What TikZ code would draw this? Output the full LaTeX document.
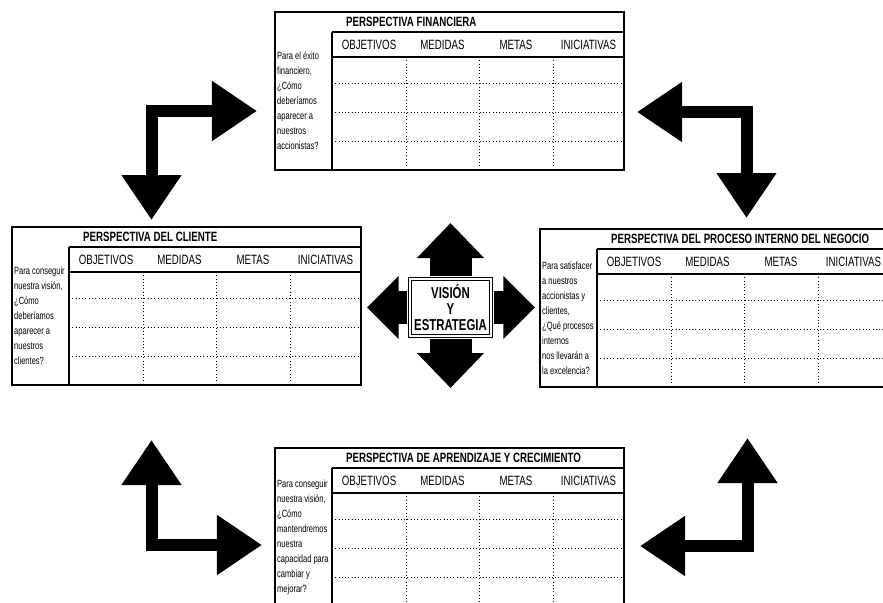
\documentclass[tikz,border=0pt]{standalone}
\usepackage{fontspec}
\setmainfont{Liberation Sans}[FakeStretch=0.72]
\usetikzlibrary{arrows.meta}

\tikzset{
  marco/.style={line width=1.2pt},
  punteada/.style={dotted, line width=0.8pt},
  titulo/.style={font=\bfseries\fontsize{11.5}{13}\selectfont, inner sep=0pt, anchor=west},
  cabecera/.style={font=\fontsize{11.5}{13}\selectfont, inner sep=0pt},
  pregunta/.style={font=\fontsize{8.9}{12.8}\selectfont, align=left, inner sep=0pt, anchor=west},
  esquina/.style={line width=0.36cm, line join=miter, >={Triangle[length=1.35cm,width=1.71cm]}, <->},
  cruz/.style={line width=1.26cm, shorten <=1.9pt, >={Triangle[length=1.05cm,width=1.95cm]}, ->},
  cruzlado/.style={cruz, line width=1cm, >={Triangle[length=0.95cm,width=1.83cm]}},
  vision/.style={draw, double, line width=1.3pt, double distance=1.2pt, minimum width=2.42cm,
    minimum height=1.7cm, align=center, inner sep=0pt, font=\bfseries\fontsize{13.5}{13.7}\selectfont}
}

% una tabla de perspectiva: nombre, x, y, titulo, pregunta
\newcommand{\perspectiva}[5]{%
  \begin{scope}[shift={(#2,#3)}]
    % filas y columnas punteadas
    \foreach \fy in {71,100,129} \draw[punteada] (57,\fy) -- (349,\fy);
    \foreach \cx in {131,204,278} \draw[punteada] (\cx,45) -- (\cx,158);
    % marco y lineas principales
    \draw[marco] (0,0) rectangle (349,158);
    \draw[marco] (57,20) -- (349,20) (57,45) -- (349,45) (57,20) -- (57,158);
    % textos
    \node[titulo] (#1-titulo) at (71,10) {#4};
    \foreach \cx/\cab [count=\i] in {94/OBJETIVOS,167.5/MEDIDAS,241/METAS,313.5/INICIATIVAS}
      \node[cabecera] (#1-cab\i) at (\cx,32.5) {\cab};
    \node[pregunta] (#1-pregunta) at (2,89) {#5};
  \end{scope}}

\begin{document}
\begin{tikzpicture}[x=0.03cm, y=-0.03cm]
  % area visible
  \clip (0,0) rectangle (883,602);

  % las cuatro perspectivas
  \perspectiva{fin}{275}{12}{PERSPECTIVA FINANCIERA}
    {Para el éxito\\financiero,\\¿Cómo\\deberíamos\\aparecer a\\nuestros\\accionistas?}
  \perspectiva{cli}{12}{227}{PERSPECTIVA DEL CLIENTE}
    {Para conseguir\\nuestra visión,\\¿Cómo\\deberíamos\\aparecer a\\nuestros\\clientes?}
  \perspectiva{pro}{540}{229}{PERSPECTIVA DEL PROCESO INTERNO DEL NEGOCIO}
    {Para satisfacer\\a nuestros\\accionistas y\\clientes,\\¿Qué procesos\\internos\\nos llevarán a\\la excelencia?}
  \perspectiva{apr}{275}{448}{PERSPECTIVA DE APRENDIZAJE Y CRECIMIENTO}
    {Para conseguir\\nuestra visión,\\¿Cómo\\mantendremos\\nuestra\\capacidad para\\cambiar y\\mejorar?}

  % vision y estrategia al centro
  \node[vision] (vis) at (450.5,307.5) {VISIÓN\\Y\\ESTRATEGIA};
  \coordinate (vis-n) at (450.5,223);
  \coordinate (vis-s) at (450.5,388);
  \coordinate (vis-o) at (367,307.5);
  \coordinate (vis-e) at (535,307.5);
  \draw[cruz] (vis.north) -- (vis-n);
  \draw[cruz] (vis.south) -- (vis-s);
  \draw[cruzlado] (vis.west) -- (vis-o);
  \draw[cruzlado] (vis.east) -- (vis-e);

  % flechas de las esquinas
  \coordinate (no) at (151.5,111);
  \coordinate (no-a) at (257,111);
  \coordinate (no-b) at (151.5,220);
  \draw[esquina] (no-a) -- (no) -- (no-b);

  \coordinate (ne) at (746.5,112);
  \coordinate (ne-a) at (637,112);
  \coordinate (ne-b) at (746.5,218);
  \draw[esquina] (ne-a) -- (ne) -- (ne-b);

  \coordinate (so) at (151.5,545);
  \coordinate (so-a) at (151.5,440);
  \coordinate (so-b) at (262,545);
  \draw[esquina] (so-a) -- (so) -- (so-b);

  \coordinate (se) at (747.5,546);
  \coordinate (se-a) at (747.5,438);
  \coordinate (se-b) at (640,546);
  \draw[esquina] (se-a) -- (se) -- (se-b);
\end{tikzpicture}
\end{document}
